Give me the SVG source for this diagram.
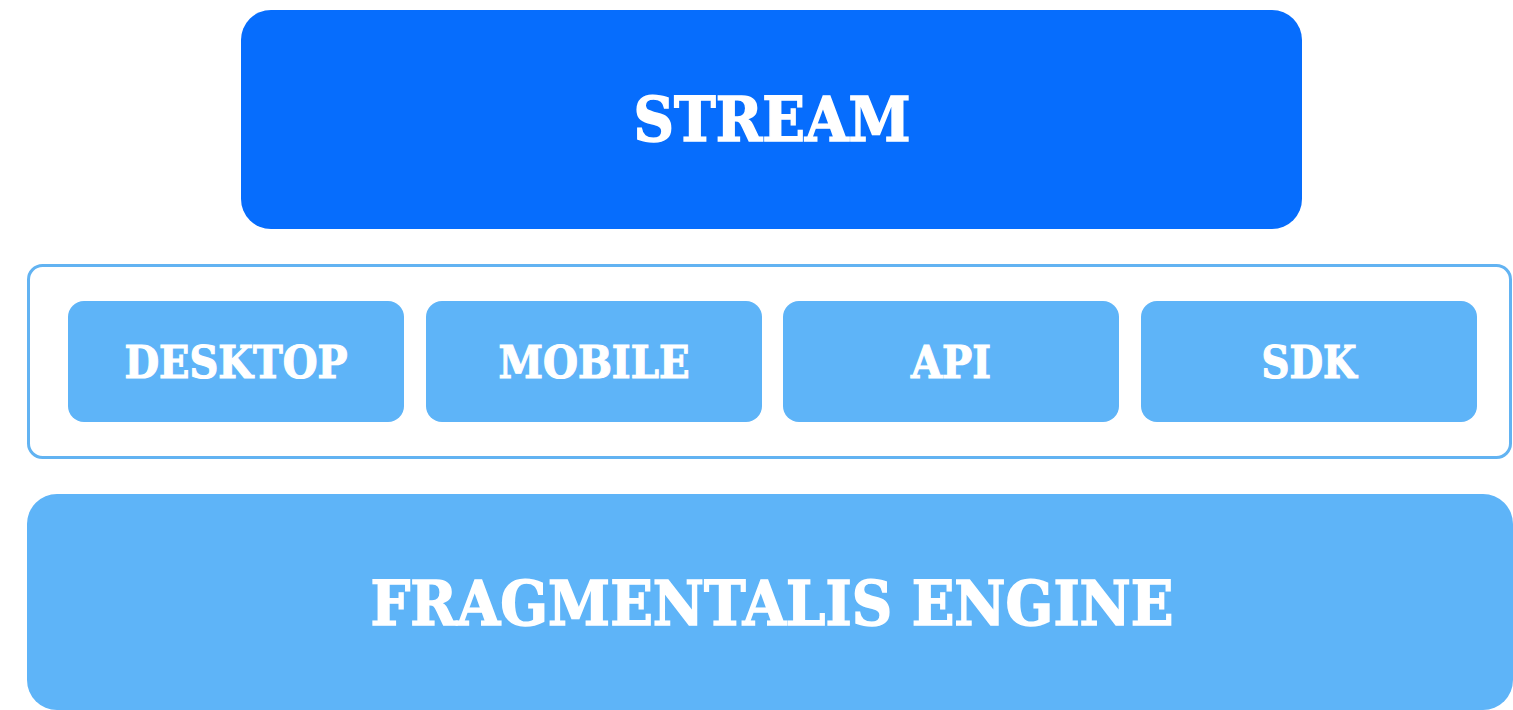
<svg xmlns="http://www.w3.org/2000/svg" width="1513" height="710" viewBox="0 0 1513 710">
<style>
.lbl{font-family:"DejaVu Serif","Liberation Serif",serif;font-weight:bold;fill:#ffffff;stroke:#ffffff;text-anchor:middle}
.big{font-size:62px;stroke-width:1.6px}
.sm{font-size:44px;stroke-width:1.2px}
.chip{fill:#5eb4f8}
</style>
<rect width="1513" height="710" fill="#ffffff"/>
<g id="stream">
<rect x="241" y="10" width="1061" height="219" rx="30" fill="#066dfd"/>
<text class="lbl big" x="772" y="141" textLength="277" lengthAdjust="spacingAndGlyphs">STREAM</text>
</g>
<g id="clients">
<rect x="28.5" y="265.5" width="1482" height="192" rx="14" fill="#ffffff" stroke="#62b3f2" stroke-width="3"/>
</g>
<g id="desktop">
<rect class="chip" x="68" y="301" width="336" height="121" rx="16"/>
<text class="lbl sm" x="236" y="378" textLength="223" lengthAdjust="spacingAndGlyphs">DESKTOP</text>
</g>
<g id="mobile">
<rect class="chip" x="426" y="301" width="336" height="121" rx="16"/>
<text class="lbl sm" x="594" y="378" textLength="191" lengthAdjust="spacingAndGlyphs">MOBILE</text>
</g>
<g id="api">
<rect class="chip" x="783" y="301" width="336" height="121" rx="16"/>
<text class="lbl sm" x="951" y="378" textLength="80" lengthAdjust="spacingAndGlyphs">API</text>
</g>
<g id="sdk">
<rect class="chip" x="1141" y="301" width="336" height="121" rx="16"/>
<text class="lbl sm" x="1309" y="378" textLength="95" lengthAdjust="spacingAndGlyphs">SDK</text>
</g>
<g id="engine">
<rect class="chip" x="27" y="494" width="1486" height="216" rx="30"/>
<text class="lbl big" x="772" y="625" textLength="803" lengthAdjust="spacingAndGlyphs">FRAGMENTALIS ENGINE</text>
</g>
<g id="connectors"></g>
</svg>
